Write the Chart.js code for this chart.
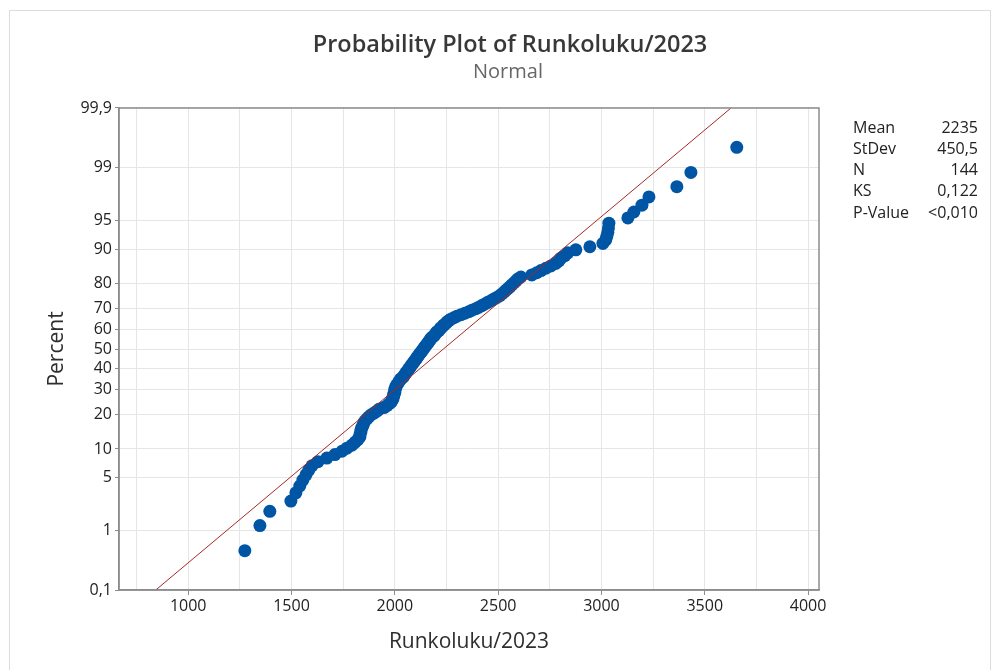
<!DOCTYPE html>
<html>
<head>
<meta charset="utf-8">
<script src="https://cdn.jsdelivr.net/npm/chart.js@4"></script>
<style>
	body { margin: 0; background: #fff; }
	canvas { display: block; }
</style>
</head>
<body>
<canvas id="probChart" width="999" height="670"></canvas>
<script>
// Runkoluku/2023, sorted (N = 144)
var runkoluku = [
	1274, 1347, 1395, 1497, 1521, 1540, 1555, 1570, 1584, 1599,
	1628, 1671, 1710, 1744, 1768, 1792, 1807, 1821, 1831, 1831,
	1836, 1836, 1841, 1846, 1850, 1855, 1865, 1874, 1884, 1899,
	1913, 1923, 1947, 1962, 1971, 1981, 1986, 1991, 1991, 1995,
	1995, 2000, 2000, 2000, 2005, 2005, 2010, 2015, 2020, 2024,
	2029, 2039, 2044, 2049, 2053, 2058, 2063, 2068, 2073, 2078,
	2082, 2087, 2092, 2097, 2102, 2107, 2111, 2116, 2121, 2126,
	2131, 2136, 2140, 2145, 2150, 2155, 2160, 2165, 2169, 2174,
	2179, 2189, 2194, 2198, 2203, 2213, 2218, 2223, 2232, 2237,
	2247, 2252, 2261, 2271, 2286, 2300, 2320, 2339, 2358, 2373,
	2392, 2407, 2421, 2436, 2450, 2465, 2479, 2494, 2508, 2518,
	2528, 2537, 2547, 2557, 2566, 2576, 2586, 2595, 2610, 2663,
	2687, 2707, 2731, 2755, 2779, 2794, 2803, 2823, 2837, 2876,
	2944, 3007, 3021, 3026, 3031, 3034, 3036, 3128, 3157, 3196,
	3230, 3365, 3433, 3655
];

var statNames = ['Mean', 'StDev', 'N', 'KS', 'P-Value'];
var statValues = ['2235', '450,5', '144', '0,122', '<0,010'];
var fitMean = 2235;
var fitStDev = 450.5;

var percentTicks = [0.1, 1, 5, 10, 20, 30, 40, 50, 60, 70, 80, 90, 95, 99, 99.9];
var percentLabels = ['0,1', '1', '5', '10', '20', '30', '40', '50', '60', '70', '80', '90', '95', '99', '99,9'];
var xTicks = [750, 1000, 1250, 1500, 1750, 2000, 2250, 2500, 2750, 3000, 3250, 3500, 3750, 4000];

var FONT = "'Open Sans', 'Noto Sans', sans-serif";

// inverse normal cdf (Acklam)
function probit(p) {
	var a = [-39.69683028665376, 220.9460984245205, -275.9285104469687, 138.3577518672690, -30.66479806614716, 2.506628277459239];
	var b = [-54.47609879822406, 161.5858368580409, -155.6989798598866, 66.80131188771972, -13.28068155288572];
	var c = [-0.007784894002430293, -0.3223964580411365, -2.400758277161838, -2.549732539343734, 4.374664141464968, 2.938163982698783];
	var d = [0.007784695709041462, 0.3224671290700398, 2.445134137142996, 3.754408661907416];
	var q, r;
	if (p < 0.02425) {
		q = Math.sqrt(-2 * Math.log(p));
		return (((((c[0]*q+c[1])*q+c[2])*q+c[3])*q+c[4])*q+c[5]) / ((((d[0]*q+d[1])*q+d[2])*q+d[3])*q+1);
	} else if (p > 1 - 0.02425) {
		q = Math.sqrt(-2 * Math.log(1 - p));
		return -(((((c[0]*q+c[1])*q+c[2])*q+c[3])*q+c[4])*q+c[5]) / ((((d[0]*q+d[1])*q+d[2])*q+d[3])*q+1);
	}
	q = p - 0.5;
	r = q * q;
	return (((((a[0]*r+a[1])*r+a[2])*r+a[3])*r+a[4])*r+a[5])*q / (((((b[0]*r+b[1])*r+b[2])*r+b[3])*r+b[4])*r+1);
}

function buildPoints() {
	var n = runkoluku.length;
	var pts = new Array();
	runkoluku.forEach(function(v, i) {
		// median rank plotting position
		pts.push({ x: v, y: probit((i + 1 - 0.3) / (n + 0.4)) });
	});
	return pts;
}

var zTop = probit(0.999);
var zBottom = probit(0.001);

var fitLine = [
	{ x: fitMean + zBottom * fitStDev, y: zBottom },
	{ x: fitMean + zTop * fitStDev, y: zTop }
];

var decorPlugin = {
	id: 'decor',
	beforeDraw: function(chart) {
		var ctx = chart.ctx;
		ctx.save();
		ctx.fillStyle = '#fff';
		ctx.fillRect(0, 0, chart.width, chart.height);
		ctx.strokeStyle = '#dcdcdc';
		ctx.lineWidth = 1;
		ctx.strokeRect(9.5, 10.5, 981, 700);
		ctx.restore();
	},
	afterDraw: function(chart) {
		var ctx = chart.ctx;
		var area = chart.chartArea;
		ctx.save();
		// plot frame
		ctx.strokeStyle = '#8c8c8c';
		ctx.lineWidth = 1.5;
		ctx.strokeRect(area.left, area.top, area.right - area.left, area.bottom - area.top);

		ctx.textBaseline = 'middle';
		ctx.textAlign = 'center';
		ctx.fillStyle = '#383838';
		ctx.font = '600 23.5px ' + FONT;
		ctx.fillText('Probability Plot of Runkoluku/2023', 510, 45);
		ctx.fillStyle = '#666';
		ctx.font = '20px ' + FONT;
		ctx.fillText('Normal', 508, 72);

		ctx.fillStyle = '#2e2e2e';
		ctx.font = '21px ' + FONT;
		ctx.fillText('Runkoluku/2023', (area.left + area.right) / 2, 642);
		ctx.save();
		ctx.translate(57, (area.top + area.bottom) / 2);
		ctx.rotate(-Math.PI / 2);
		ctx.fillText('Percent', 0, 0);
		ctx.restore();

		ctx.font = '16px ' + FONT;
		ctx.fillStyle = '#222';
		statNames.forEach(function(name, i) {
			var y = 128 + i * 21.3;
			ctx.textAlign = 'left';
			ctx.fillText(name, 853, y);
			ctx.textAlign = 'right';
			ctx.fillText(statValues[i], 978, y);
		});
		ctx.restore();
	}
};

var config = {
	type: 'scatter',
	data: {
		datasets: [
			{
				type: 'line',
				data: fitLine,
				borderColor: '#a82828',
				borderWidth: 1,
				pointRadius: 0,
				fill: false,
				order: 0
			},
			{
				data: buildPoints(),
				backgroundColor: '#0055a4',
				borderColor: '#0055a4',
				pointRadius: 6.5,
				pointBorderWidth: 0,
				order: 1
			}
		]
	},
	options: {
		responsive: false,
		animation: false,
		layout: { padding: { top: 108, right: 180, left: 0, bottom: 0 } },
		plugins: {
			legend: { display: false },
			tooltip: { enabled: false }
		},
		scales: {
			x: {
				type: 'linear',
				min: 665,
				max: 4053,
				afterFit: function(scale) { scale.height = 80; },
				afterBuildTicks: function(scale) {
					scale.ticks = xTicks.map(function(v) { return { value: v }; });
				},
				ticks: {
					autoSkip: false,
					maxRotation: 0,
					padding: 2,
					color: '#222',
					font: { family: FONT, size: 16 },
					callback: function(value) { return value % 500 === 0 ? String(value) : ''; }
				},
				grid: {
					color: '#e6e6e6',
					lineWidth: 1,
					tickLength: 5,
					tickColor: function(c) { return c.tick && c.tick.value % 500 === 0 ? '#8c8c8c' : 'rgba(0,0,0,0)'; }
				},
				border: { color: '#8c8c8c', width: 1.5 }
			},
			y: {
				type: 'linear',
				min: zBottom,
				max: zTop,
				afterFit: function(scale) { scale.width = 119; },
				afterBuildTicks: function(scale) {
					scale.ticks = percentTicks.map(function(p) { return { value: probit(p / 100) }; });
				},
				ticks: {
					autoSkip: false,
					padding: 3,
					color: '#222',
					font: { family: FONT, size: 16 },
					callback: function(value, index) { return percentLabels[index]; }
				},
				grid: {
					color: '#e6e6e6',
					lineWidth: 1,
					tickLength: 4,
					tickColor: '#8c8c8c'
				},
				border: { color: '#8c8c8c', width: 1.5 }
			}
		}
	},
	plugins: [decorPlugin]
};

var myChart = new Chart(document.getElementById('probChart'), config);
</script>
</body>
</html>
